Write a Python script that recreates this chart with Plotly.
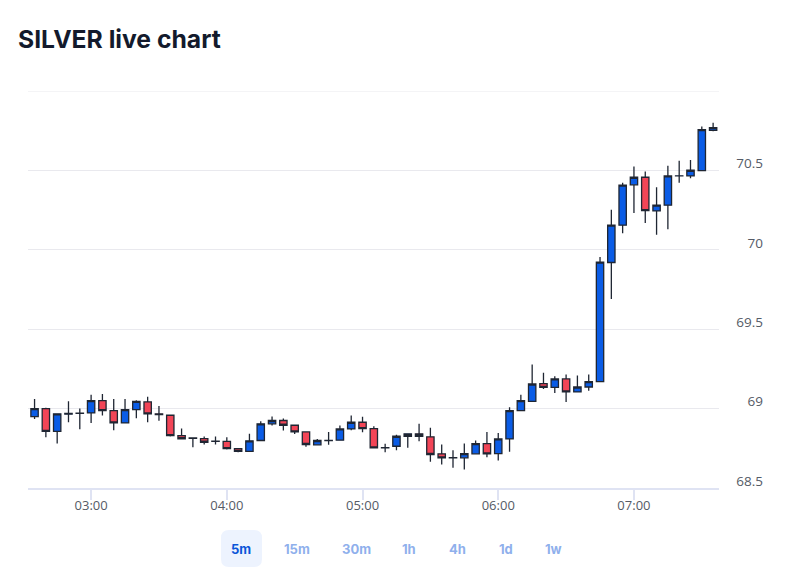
import pandas as pd
import plotly.graph_objects as go

# 5-minute candles, 02:35 -> 07:35
times = pd.date_range("2025-01-01 02:35", periods=61, freq="5min")

opens = [68.950, 69.000, 68.857, 68.965, 68.972, 68.973, 69.050, 68.987, 68.910, 68.994,
         69.042, 68.967, 68.958, 68.830, 68.815, 68.811, 68.795, 68.794, 68.748, 68.731,
         68.799, 68.904, 68.925, 68.895, 68.853, 68.772, 68.798, 68.801, 68.872, 68.914,
         68.874, 68.753, 68.763, 68.826, 68.841, 68.822, 68.715, 68.690, 68.690, 68.715,
         68.780, 68.717, 68.809, 68.987, 69.046, 69.157, 69.134, 69.187, 69.105, 69.136,
         69.170, 69.920, 70.155, 70.409, 70.457, 70.245, 70.281, 70.465, 70.465, 70.499,
         70.752]
highs = [69.061, 69.005, 68.970, 69.046, 69.000, 69.088, 69.092, 69.061, 69.061, 69.052,
         69.074, 69.017, 68.960, 68.874, 68.816, 68.824, 68.824, 68.820, 68.750, 68.841,
         68.920, 68.950, 68.937, 68.897, 68.855, 68.809, 68.853, 68.893, 68.956, 68.948,
         68.889, 68.778, 68.836, 68.842, 68.904, 68.879, 68.774, 68.738, 68.780, 68.799,
         68.853, 68.847, 69.008, 69.088, 69.277, 69.225, 69.203, 69.214, 69.208, 69.214,
         69.954, 70.252, 70.423, 70.524, 70.493, 70.394, 70.530, 70.560, 70.566, 70.776,
         70.800]
lows = [68.935, 68.820, 68.780, 68.914, 68.870, 68.910, 68.956, 68.864, 68.910, 68.940,
        68.914, 68.923, 68.825, 68.808, 68.757, 68.774, 68.774, 68.742, 68.725, 68.730,
        68.798, 68.893, 68.862, 68.840, 68.759, 68.770, 68.772, 68.800, 68.864, 68.851,
        68.752, 68.725, 68.738, 68.753, 68.794, 68.665, 68.648, 68.627, 68.616, 68.714,
        68.694, 68.673, 68.728, 68.983, 69.045, 69.124, 69.099, 69.042, 69.104, 69.113,
        69.168, 69.690, 70.105, 70.231, 70.168, 70.094, 70.130, 70.423, 70.451, 70.498,
        70.746]
closes = [69.000, 68.857, 68.967, 68.970, 68.970, 69.050, 68.987, 68.910, 68.994, 69.046,
          68.967, 68.962, 68.830, 68.810, 68.813, 68.788, 68.793, 68.748, 68.731, 68.797,
          68.904, 68.925, 68.895, 68.853, 68.774, 68.799, 68.800, 68.872, 68.914, 68.874,
          68.753, 68.754, 68.826, 68.841, 68.826, 68.711, 68.690, 68.691, 68.717, 68.780,
          68.715, 68.809, 68.987, 69.050, 69.155, 69.134, 69.187, 69.105, 69.136, 69.170,
          69.923, 70.155, 70.407, 70.457, 70.247, 70.281, 70.465, 70.466, 70.501, 70.757,
          70.769]

y_ticks = [68.5, 69, 69.5, 70, 70.5, 71]
y_labels = ["68.5", "69", "69.5", "70", "70.5", ""]
intervals = ["5m", "15m", "30m", "1h", "4h", "1d", "1w"]
interval_x = [241, 297, 356, 409, 457, 506, 553]

# page body has an 8px margin, so the figure starts at (8, 8)
OFF = 8
W, H = 789 - OFF, 581 - OFF
L, R, T, B = 28 - OFF, 20, 91 - OFF, 93
PW, PH = W - L - R, H - T - B
XDOM = 691 / PW


# helpers: window pixels -> paper coords
def px_x(x):
    return (x - OFF - L) / PW


def px_y(y):
    return (H - B - (y - OFF)) / PH


fig = go.Figure()

fig.add_trace(go.Candlestick(
    x=times, open=opens, high=highs, low=lows, close=closes,
    increasing=dict(line=dict(color="#1f2633", width=1.3), fillcolor="#0a5ce6"),
    decreasing=dict(line=dict(color="#1f2633", width=1.3), fillcolor="#f24557"),
    whiskerwidth=0,
    hoverinfo="x+y",
    showlegend=False,
))

# top grid line (plotly drops the one sitting on the range edge)
fig.add_shape(type="line", xref="paper", yref="y", x0=0, x1=XDOM, y0=71, y1=71,
              line=dict(color="#e9e9ee", width=1), layer="below")

# rounded background of the selected interval button
x0, x1, y0, y1, r = 221, 262, 530, 567, 8
rx, ry = r / PW, r / PH
a, b, c, d = px_x(x0), px_x(x1), px_y(y0), px_y(y1)
path = (f"M{a+rx},{c} L{b-rx},{c} Q{b},{c} {b},{c-ry} L{b},{d+ry} Q{b},{d} {b-rx},{d} "
        f"L{a+rx},{d} Q{a},{d} {a},{d+ry} L{a},{c-ry} Q{a},{c} {a+rx},{c} Z")
fig.add_shape(type="path", path=path, xref="paper", yref="paper",
              fillcolor="#edf3fe", line=dict(width=0), layer="below")

for i, lab in enumerate(intervals):
    sel = i == 0
    fig.add_annotation(
        x=px_x(interval_x[i]), y=px_y(549), xref="paper", yref="paper",
        xanchor="center", yanchor="middle",
        text=f"<b>{lab}</b>", showarrow=False,
        font=dict(family="Inter", size=13, color="#0b55d8" if sel else "#8fb0ec"),
    )

fig.update_layout(
    width=W, height=H,
    margin=dict(l=L, r=R, t=T, b=B),
    paper_bgcolor="white", plot_bgcolor="white",
    title=dict(text="<b>SILVER live chart</b>", x=(18 - OFF) / W, xanchor="left",
               xref="container", y=1 - (39 - OFF) / H, yref="container", yanchor="middle",
               font=dict(family="Inter", size=24.7, color="#131a2c")),
    boxgap=0.35, boxgroupgap=0,
    xaxis=dict(
        type="date", domain=[0, XDOM],
        range=["2025-01-01 02:32:06", "2025-01-01 07:37:36"],
        rangeslider=dict(visible=False),
        tickformat="%H:%M", dtick=3600000, tick0="2025-01-01 03:00",
        showgrid=False, showline=True, linecolor="#dfe3f3", linewidth=2,
        ticks="outside", ticklen=10, tickcolor="#dfe3f3", tickwidth=1.5,
        ticklabelstandoff=-6,
        tickfont=dict(family="Open Sans", size=13, color="#555b66"),
        fixedrange=True,
    ),
    yaxis=dict(
        range=[68.5, 71], anchor="free", position=(763 - OFF - L) / PW, side="left",
        tickvals=y_ticks, ticktext=y_labels,
        showgrid=True, gridcolor="#e9e9ee", gridwidth=1,
        zeroline=False, showline=False, ticks="",
        ticklabelshift=-7,
        tickfont=dict(family="Open Sans", size=13.5, color="#555b66"),
        fixedrange=True,
    ),
)

fig.write_html("out.html")
